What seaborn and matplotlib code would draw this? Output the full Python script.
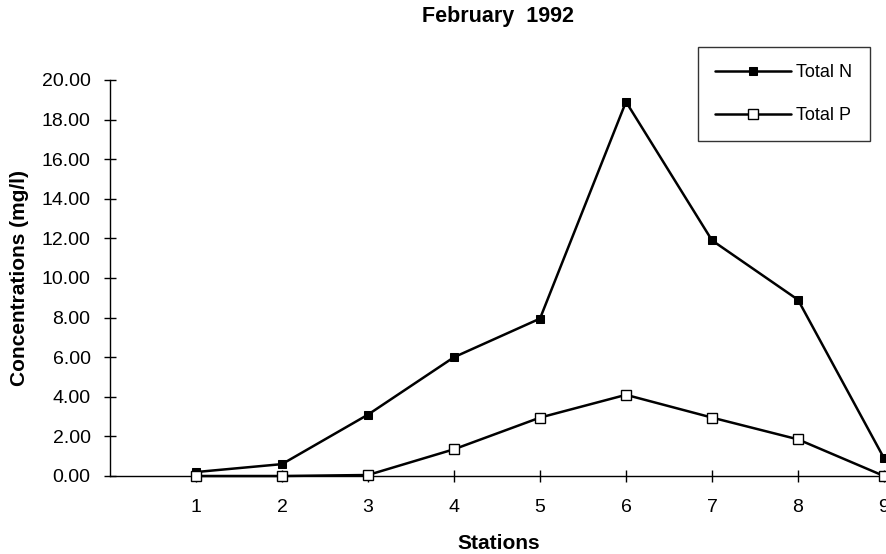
import matplotlib
matplotlib.use("Agg")
import matplotlib.pyplot as plt
import seaborn as sns
import pandas as pd

stations = [1, 2, 3, 4, 5, 6, 7, 8, 9]
total_n = [0.2, 0.6, 3.1, 6.0, 7.95, 18.9, 11.9, 8.9, 0.9]
total_p = [0.0, 0.0, 0.05, 1.35, 2.95, 4.1, 2.95, 1.85, 0.0]
y_ticks = [0, 2, 4, 6, 8, 10, 12, 14, 16, 18, 20]

sns.set_theme(style="white")
plt.rcParams['font.family'] = ['Liberation Sans', 'DejaVu Sans']

fig = plt.figure(figsize=(8.87, 5.54), dpi=100)
ax = fig.add_axes([110/887, 78/554, 777/887, 396/554])

df_n = pd.DataFrame({"Stations": stations, "Conc": total_n})
df_p = pd.DataFrame({"Stations": stations, "Conc": total_p})

sns.lineplot(data=df_n, x="Stations", y="Conc", ax=ax, color="black", linewidth=1.8,
             marker="s", markersize=6, markerfacecolor="black", markeredgecolor="black",
             label="Total N", clip_on=False, zorder=3)
sns.lineplot(data=df_p, x="Stations", y="Conc", ax=ax, color="black", linewidth=1.8,
             marker="s", markersize=7, markerfacecolor="white", markeredgecolor="black",
             markeredgewidth=1.0, label="Total P", clip_on=False, zorder=4)

ax.set_xlim(0, 777/86)
ax.set_ylim(0, 20)
ax.set_xticks(stations)
ax.set_xticklabels([str(s) for s in stations], fontsize=14)
ax.set_yticks(y_ticks)
ax.set_yticklabels([f"{v:.2f}" for v in y_ticks], fontsize=14)
ax.tick_params(axis="both", direction="inout", length=9, width=1, color="black",
               labelcolor="black", left=True, bottom=True)
ax.tick_params(axis="x", pad=12)
ax.tick_params(axis="y", pad=9.5)

for side in ["top", "right"]:
    ax.spines[side].set_visible(False)
for side in ["left", "bottom"]:
    ax.spines[side].set_color("black")
    ax.spines[side].set_linewidth(1.0)

ax.set_xlabel("Stations", fontsize=15, fontweight="bold", color="black", labelpad=13)
ax.set_ylabel("Concentrations (mg/l)", fontsize=15, fontweight="bold", color="black", labelpad=9)
ax.set_title("February  1992", fontsize=15.5, fontweight="bold", color="black", pad=42)

leg = ax.legend(loc="upper left", bbox_to_anchor=(698/887, 1 - 47/554),
                bbox_transform=fig.transFigure, frameon=True, fancybox=False,
                edgecolor="black", fontsize=13, handlelength=4.2, labelspacing=1.45,
                borderpad=0.95, handletextpad=0.3, borderaxespad=0)
leg.get_frame().set_linewidth(1.0)
for t in leg.get_texts():
    t.set_color("black")

fig.savefig("out.png", dpi=100)
